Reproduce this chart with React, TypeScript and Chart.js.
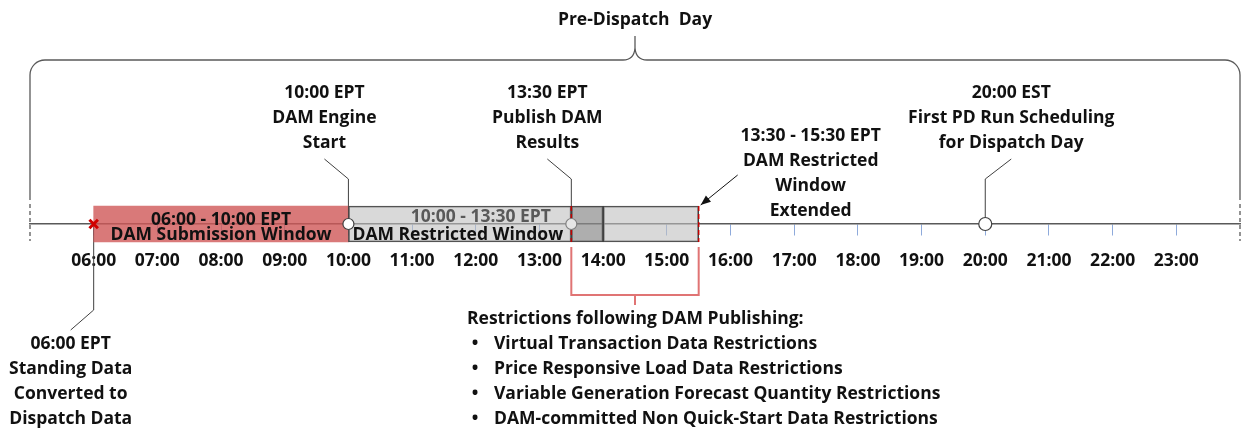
import React, { useEffect, useRef } from 'react';
import { Chart, registerables } from 'chart.js';

Chart.register(...registerables);

// ---------- data ----------
const AXIS_MIN = 5;
const AXIS_MAX = 24;
const HOURS = [6, 7, 8, 9, 10, 11, 12, 13, 14, 15, 16, 17, 18, 19, 20, 21, 22, 23];
const HOUR_LABELS = ['06:00', '07:00', '08:00', '09:00', '10:00', '11:00', '12:00', '13:00', '14:00', '15:00', '16:00', '17:00', '18:00', '19:00', '20:00', '21:00', '22:00', '23:00'];

const WINDOW_STARTS = [6, 10, 13.5, 14];
const WINDOW_ENDS = [10, 13.5, 14, 15.5];
const WINDOW_TITLES = ['06:00 - 10:00 EPT', '10:00 - 13:30 EPT'];
const WINDOW_NAMES = ['DAM Submission Window', 'DAM Restricted Window'];

const EVENT_TIMES = [6, 10, 13.5, 20];
const EVENT_LABELS = [
  ['06:00 EPT', 'Standing Data', 'Converted to', 'Dispatch Data'],
  ['10:00 EPT', 'DAM Engine', 'Start'],
  ['13:30 EPT', 'Publish DAM', 'Results'],
  ['20:00 EST', 'First PD Run Scheduling', 'for Dispatch Day'],
];

const EXTENDED_START = 13.5;
const EXTENDED_END = 15.5;
const EXTENDED_LABEL = ['13:30 - 15:30 EPT', 'DAM Restricted', 'Window', 'Extended'];

const SPAN_TITLE = 'Pre-Dispatch  Day';
const RESTRICTIONS_TITLE = 'Restrictions following DAM Publishing:';
const RESTRICTIONS = [
  'Virtual Transaction Data Restrictions',
  'Price Responsive Load Data Restrictions',
  'Variable Generation Forecast Quantity Restrictions',
  'DAM-committed Non Quick-Start Data Restrictions',
];

// ---------- layout / style ----------
const W = 1243;
const H = 431;
const AXIS_PX = 224;
const FONT = '"Open Sans", "Noto Sans", sans-serif';
const FS = 17.5;
const LINE = 25;
const DARK = '#404040';

function font(size: number) {
  return `bold ${size}px ${FONT}`;
}

function lines(ctx: CanvasRenderingContext2D, txt: string[], cx: number, y0: number, align: CanvasTextAlign = 'center') {
  ctx.textAlign = align;
  ctx.textBaseline = 'middle';
  txt.forEach((t, i) => ctx.fillText(t, cx, y0 + 1 + i * LINE));
}

const decor = {
  id: 'decor',
  beforeDatasetsDraw(chart: any) {
    const { ctx, chartArea } = chart;
    const xs = chart.scales.x;
    const ay = chart.scales.y.getPixelForValue(0);
    const X = (v: number) => xs.getPixelForValue(v);
    ctx.save();
    // brace
    const L = chartArea.left;
    const R = chartArea.right;
    const cx = (L + R) / 2;
    const by = 60;
    ctx.strokeStyle = '#595959';
    ctx.lineWidth = 1.3;
    ctx.beginPath();
    ctx.moveTo(L, ay - 24);
    ctx.lineTo(L, by + 15);
    ctx.arcTo(L, by, L + 15, by, 15);
    ctx.lineTo(cx - 12, by);
    ctx.quadraticCurveTo(cx - 1, by, cx, by - 12);
    ctx.lineTo(cx, by - 24);
    ctx.moveTo(cx, by - 12);
    ctx.quadraticCurveTo(cx + 1, by, cx + 12, by);
    ctx.lineTo(R - 15, by);
    ctx.arcTo(R, by, R, by + 15, 15);
    ctx.lineTo(R, ay - 24);
    ctx.stroke();
    ctx.setLineDash([4, 3]);
    ctx.beginPath();
    ctx.moveTo(L, ay - 20);
    ctx.lineTo(L, ay + 17);
    ctx.moveTo(R, ay - 20);
    ctx.lineTo(R, ay + 17);
    ctx.stroke();
    ctx.setLineDash([]);

    // callout leader lines
    ctx.strokeStyle = DARK;
    ctx.lineWidth = 1;
    const offs = [-23, -24, -24, 26];
    EVENT_TIMES.forEach((t, i) => {
      const x = X(t);
      ctx.beginPath();
      if (i === 0) {
        ctx.moveTo(x, ay);
        ctx.lineTo(x, ay + 86);
        ctx.lineTo(x + offs[i], ay + 106);
      } else {
        ctx.moveTo(x, ay);
        ctx.lineTo(x, ay - 45);
        ctx.lineTo(x + offs[i], ay - 65);
      }
      ctx.stroke();
    });
    ctx.restore();
  },
  afterDatasetDraw(chart: any, args: any) {
    if (args.index !== 0) return;
    const { ctx } = chart;
    const xs = chart.scales.x;
    const ay = chart.scales.y.getPixelForValue(0);
    const X = (v: number) => xs.getPixelForValue(v);
    ctx.save();
    // red dashed limits inside the bar
    ctx.strokeStyle = '#c00000';
    ctx.lineWidth = 1.5;
    ctx.setLineDash([5, 3]);
    [EXTENDED_START, EXTENDED_END].forEach((t) => {
      ctx.beginPath();
      ctx.moveTo(X(t), ay - 18);
      ctx.lineTo(X(t), ay + 18);
      ctx.stroke();
    });
    ctx.setLineDash([]);
    // bar texts
    ctx.font = font(FS);
    ctx.textBaseline = 'alphabetic';
    ctx.textAlign = 'center';
    ctx.fillStyle = '#111';
    const rc = (X(WINDOW_STARTS[0]) + X(WINDOW_ENDS[0])) / 2;
    ctx.fillText(WINDOW_TITLES[0], rc, ay + 1);
    ctx.fillText(WINDOW_NAMES[0], rc, ay + 16);
    ctx.fillStyle = '#595959';
    ctx.fillText(WINDOW_TITLES[1], (X(WINDOW_STARTS[1]) + X(WINDOW_ENDS[2])) / 2 + 5, ay - 2);
    ctx.fillStyle = '#111';
    ctx.textAlign = 'left';
    ctx.fillText(WINDOW_NAMES[1], X(WINDOW_STARTS[1]) + 4, ay + 16);
    ctx.restore();
  },
  afterDraw(chart: any) {
    const { ctx, chartArea } = chart;
    const xs = chart.scales.x;
    const ay = chart.scales.y.getPixelForValue(0);
    const X = (v: number) => xs.getPixelForValue(v);
    ctx.save();
    ctx.fillStyle = '#111';
    ctx.font = font(FS);
    // title
    lines(ctx, [SPAN_TITLE], (chartArea.left + chartArea.right) / 2, 19);
    // callout labels
    const offs = [-23, -24, -24, 26];
    EVENT_TIMES.forEach((t, i) => {
      const x = X(t) + offs[i];
      if (i === 0) lines(ctx, EVENT_LABELS[i], x, ay + 119);
      else lines(ctx, EVENT_LABELS[i], x, ay - 132);
    });
    // extended window arrow + label
    const ex = X(EXTENDED_END);
    lines(ctx, EXTENDED_LABEL, ex + 112, ay - 89);
    ctx.strokeStyle = '#111';
    ctx.fillStyle = '#111';
    ctx.lineWidth = 1;
    const x1 = ex + 39, y1 = ay - 49, x2 = ex + 2, y2 = ay - 19;
    ctx.beginPath();
    ctx.moveTo(x1, y1);
    ctx.lineTo(x2, y2);
    ctx.stroke();
    const ang = Math.atan2(y2 - y1, x2 - x1);
    ctx.beginPath();
    ctx.moveTo(x2, y2);
    ctx.lineTo(x2 - 10 * Math.cos(ang) + 4 * Math.sin(ang), y2 - 10 * Math.sin(ang) - 4 * Math.cos(ang));
    ctx.lineTo(x2 - 10 * Math.cos(ang) - 4 * Math.sin(ang), y2 - 10 * Math.sin(ang) + 4 * Math.cos(ang));
    ctx.closePath();
    ctx.fill();
    // red bracket
    const bx1 = X(EXTENDED_START), bx2 = X(EXTENDED_END);
    const bm = (bx1 + bx2) / 2;
    ctx.strokeStyle = 'rgb(224,116,116)';
    ctx.lineWidth = 2;
    ctx.beginPath();
    ctx.moveTo(bx1, ay + 23);
    ctx.lineTo(bx1, ay + 71);
    ctx.lineTo(bx2, ay + 71);
    ctx.lineTo(bx2, ay + 23);
    ctx.moveTo(bm, ay + 71);
    ctx.lineTo(bm, ay + 81);
    ctx.stroke();
    // restrictions list
    ctx.fillStyle = '#111';
    ctx.font = font(FS);
    lines(ctx, [RESTRICTIONS_TITLE], bm - 168, ay + 94, 'left');
    lines(ctx, RESTRICTIONS, bm - 141, ay + 119, 'left');
    lines(ctx, RESTRICTIONS.map(() => '•'), bm - 160, ay + 119, 'center');
    ctx.restore();
  },
};

export default function App() {
  const ref = useRef<HTMLCanvasElement | null>(null);
  useEffect(() => {
    document.body.style.margin = '0';
    const canvas = ref.current!;
    const chart = new Chart(canvas, {
      type: 'bar',
      data: {
        datasets: [
          {
            type: 'bar',
            indexAxis: 'y',
            data: WINDOW_STARTS.map((s, i) => ({ x: [s, WINDOW_ENDS[i]], y: 0 })) as any,
            backgroundColor: ['rgba(208,88,88,0.8)', 'rgba(191,191,191,0.6)', 'rgba(140,140,140,0.7)', 'rgba(191,191,191,0.6)'],
            borderColor: ['rgba(0,0,0,0)', DARK, DARK, DARK],
            borderWidth: [0, 1.2, 1.2, 1.2],
            borderSkipped: false,
            barThickness: 36,
            order: 2,
          } as any,
          {
            type: 'scatter',
            data: EVENT_TIMES.map((t) => ({ x: t, y: 0 })),
            pointStyle: ['crossRot', 'circle', 'circle', 'circle'],
            pointRadius: [6, 5.5, 5.5, 6.5],
            pointBorderColor: ['#d00000', DARK, '#808080', DARK],
            pointBackgroundColor: ['#d00000', '#ffffff', '#e6e6e6', '#ffffff'],
            pointBorderWidth: [3, 1.2, 1.2, 1.2],
            clip: false,
            order: 1,
          } as any,
        ],
      },
      options: {
        responsive: false,
        devicePixelRatio: 1,
        animation: false,
        layout: { autoPadding: false, padding: { left: 30, right: 3, top: 0, bottom: 0 } },
        plugins: { legend: { display: false }, tooltip: { enabled: false } },
        scales: {
          x: {
            type: 'linear',
            min: AXIS_MIN,
            max: AXIS_MAX,
            offset: false,
            position: { y: 0 } as any,
            afterBuildTicks: (scale: any) => {
              scale.ticks = HOURS.map((v) => ({ value: v }));
            },
            afterFit: (scale: any) => {
              scale.paddingLeft = 0;
              scale.paddingRight = 0;
            },
            ticks: {
              autoSkip: false,
              maxRotation: 0,
              padding: 16,
              color: '#111',
              font: { family: FONT, size: FS, weight: 'bold' },
              callback: (v: any) => HOUR_LABELS[HOURS.indexOf(Number(v))] ?? '',
            },
            grid: { offset: false, drawOnChartArea: false, drawTicks: true, tickLength: 11, color: '#8eaadb', lineWidth: 1 },
            border: { display: true, color: '#595959', width: 1.5 },
          },
          y: { type: 'linear', offset: false, min: AXIS_PX - H, max: AXIS_PX, display: false },
        },
      },
      plugins: [decor],
    });
    return () => chart.destroy();
  }, []);
  return <canvas ref={ref} width={W} height={H} style={{ display: 'block' }} />;
}
